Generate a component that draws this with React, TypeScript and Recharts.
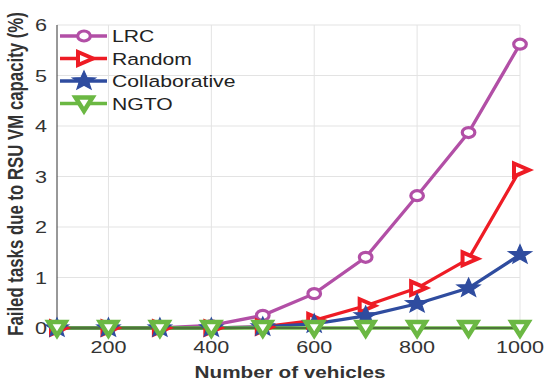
import React from 'react';
import { LineChart, Line, XAxis, YAxis, CartesianGrid } from 'recharts';

const vehicles = [100, 200, 300, 400, 500, 600, 700, 800, 900, 1000];
const lrc = [0, 0, 0, 0.05, 0.25, 0.68, 1.4, 2.62, 3.87, 5.62];
const random = [0, 0, 0, 0, 0.02, 0.15, 0.44, 0.79, 1.37, 3.13];
const collaborative = [0, 0, 0, 0, 0.02, 0.08, 0.24, 0.48, 0.79, 1.45];
const ngto = [0, 0, 0, 0, 0, 0, 0, 0, 0, 0];
const xTicks = [200, 400, 600, 800, 1000];
const yTicks = [0, 1, 2, 3, 4, 5, 6];

const COLORS = {
  lrc: '#B24FA6',
  random: '#EE1C25',
  collab: '#2F4C9F',
  ngto: '#6BB843',
};

const FONT = '"Liberation Sans", Arial, Helvetica, sans-serif';
const SX = 1.27; // picture is stretched horizontally

const data = vehicles.map((v, i) => ({
  x: v,
  lrc: lrc[i],
  random: random[i],
  collab: collaborative[i],
  ngto: ngto[i],
}));

type Kind = 'circle' | 'right' | 'star' | 'down';

const Marker = ({ kind, cx, cy }: { kind: Kind; cx: number; cy: number }) => {
  if (cx == null || cy == null) return null;
  if (kind === 'circle') {
    return <ellipse cx={cx} cy={cy} rx={6.3} ry={5} fill="#fff" stroke={COLORS.lrc} strokeWidth={3.2} />;
  }
  if (kind === 'right') {
    const pts = [[-6, -6.5], [-6, 6.5], [9, 0]].map(([a, b]) => `${cx + a},${cy + b}`).join(' ');
    return <polygon points={pts} fill="#fff" stroke={COLORS.random} strokeWidth={4} strokeLinejoin="miter" />;
  }
  if (kind === 'star') {
    const pts: string[] = [];
    for (let i = 0; i < 10; i++) {
      const r = i % 2 === 0 ? 1 : 0.42;
      const a = -Math.PI / 2 + (i * Math.PI) / 5;
      pts.push(`${cx + Math.cos(a) * r * 12}${','}${cy + Math.sin(a) * r * 10}`);
    }
    return <polygon points={pts.join(' ')} fill={COLORS.collab} stroke={COLORS.collab} strokeWidth={1.2} />;
  }
  const pts = [[-8.5, -6], [8.5, -6], [0, 7.5]].map(([a, b]) => `${cx + a},${cy + b}`).join(' ');
  return <polygon points={pts} fill="#fff" stroke={COLORS.ngto} strokeWidth={4.5} strokeLinejoin="miter" />;
};

const dotFor = (kind: Kind) => (props: any) => (
  <Marker key={`${kind}-${props.index}`} kind={kind} cx={props.cx} cy={props.cy} />
);

const XTick = (props: any) => {
  const { x, y, payload } = props;
  return (
    <text transform={`translate(${x},${y + 17}) scale(${SX},1)`} textAnchor="middle" fontFamily={FONT} fontSize={17} fill="#333">
      {payload.value}
    </text>
  );
};

const YTick = (props: any) => {
  const { x, y, payload } = props;
  return (
    <text transform={`translate(${x - 2},${y + 6}) scale(${SX},1)`} textAnchor="end" fontFamily={FONT} fontSize={17} fill="#333">
      {payload.value}
    </text>
  );
};

const legendItems: { name: string; kind: Kind; color: string }[] = [
  { name: 'LRC', kind: 'circle', color: COLORS.lrc },
  { name: 'Random', kind: 'right', color: COLORS.random },
  { name: 'Collaborative', kind: 'star', color: COLORS.collab },
  { name: 'NGTO', kind: 'down', color: COLORS.ngto },
];

export default function App() {
  return (
    <div style={{ position: 'absolute', left: 0, top: 0, width: 550, height: 385, background: '#fff' }}>
      <LineChart width={550} height={385} data={data} margin={{ top: 25, right: 30, bottom: 0, left: 0 }}>
        <CartesianGrid stroke="#e3e3e3" strokeWidth={1} verticalValues={xTicks} horizontalValues={yTicks} />
        <XAxis
          dataKey="x"
          type="number"
          domain={[100, 1000]}
          ticks={xTicks}
          height={57}
          tickLine={false}
          axisLine={{ stroke: '#333', strokeWidth: 1 }}
          tick={<XTick />}
        />
        <YAxis
          type="number"
          domain={[0, 6]}
          ticks={yTicks}
          width={57}
          tickLine={false}
          axisLine={{ stroke: '#333', strokeWidth: 1 }}
          tick={<YTick />}
        />
        <Line dataKey="lrc" stroke={COLORS.lrc} strokeWidth={3.3} dot={dotFor('circle')} activeDot={false} isAnimationActive={false} />
        <Line dataKey="random" stroke={COLORS.random} strokeWidth={3.3} dot={dotFor('right')} activeDot={false} isAnimationActive={false} />
        <Line dataKey="collab" stroke={COLORS.collab} strokeWidth={3.3} dot={dotFor('star')} activeDot={false} isAnimationActive={false} />
        <Line dataKey="ngto" stroke={COLORS.ngto} strokeWidth={3.3} dot={dotFor('down')} activeDot={false} isAnimationActive={false} />
      </LineChart>
      <svg width={550} height={385} style={{ position: 'absolute', left: 0, top: 0, pointerEvents: 'none' }}>
        <text
          transform={`translate(23,174) rotate(-90) scale(1,${SX})`}
          textAnchor="middle"
          fontFamily={FONT}
          fontWeight="bold"
          fontSize={16.8}
          fill="#333"
        >
          Failed tasks due to RSU VM capacity (%)
        </text>
        <text
          transform={`translate(290,378) scale(${SX},1)`}
          textAnchor="middle"
          fontFamily={FONT}
          fontWeight="bold"
          fontSize={16.3}
          fill="#333"
        >
          Number of vehicles
        </text>
        {legendItems.map((it, i) => {
          const y = 36 + i * 22.5;
          return (
            <g key={it.name}>
              <line x1={60} x2={107} y1={y} y2={y} stroke={it.color} strokeWidth={3.3} />
              <Marker kind={it.kind} cx={84} cy={y} />
              <text transform={`translate(112,${y + 6}) scale(${SX * 0.98},1)`} fontFamily={FONT} fontSize={17} fill="#222">
                {it.name}
              </text>
            </g>
          );
        })}
      </svg>
    </div>
  );
}
